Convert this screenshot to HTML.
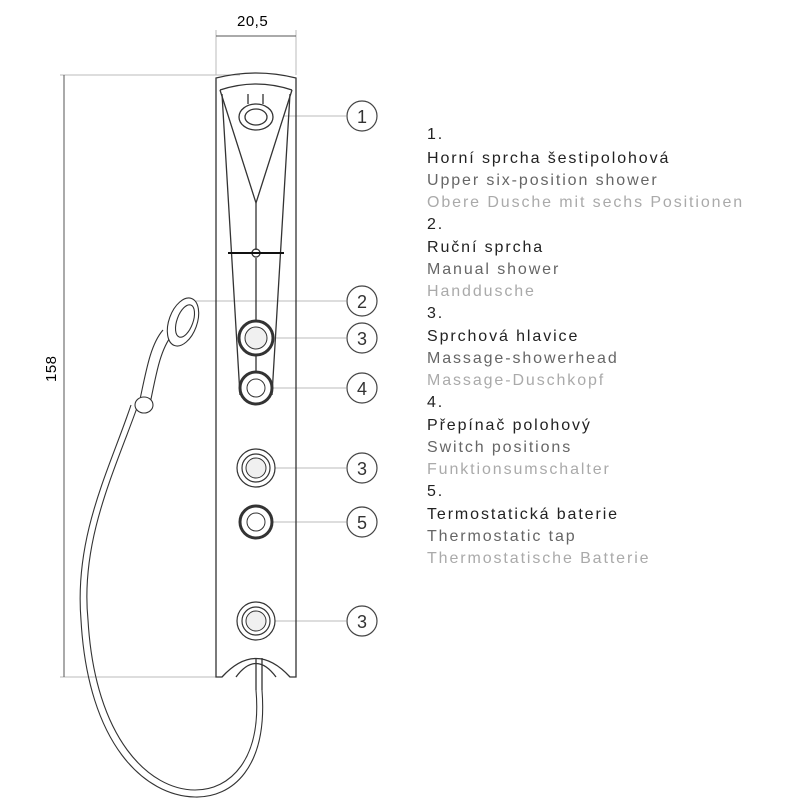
<!DOCTYPE html>
<html><head><meta charset="utf-8"><style>
body{margin:0;background:#fff;width:800px;height:800px;overflow:hidden}
svg text{font-family:"Liberation Sans",sans-serif;font-size:16px;letter-spacing:1.9px}
</style></head><body>
<svg width="800" height="800" viewBox="0 0 800 800" xmlns="http://www.w3.org/2000/svg">
<g stroke="#bbb" stroke-width="1" fill="none">
<line x1="216" y1="30" x2="216" y2="75"/><line x1="296" y1="30" x2="296" y2="75"/>
<line x1="216" y1="36" x2="296" y2="36" stroke="#555"/>
<line x1="60" y1="75" x2="240" y2="75"/><line x1="60" y1="677" x2="220" y2="677"/>
<line x1="64" y1="75" x2="64" y2="677" stroke="#555"/>
<line x1="283" y1="116" x2="346" y2="116"/>
<line x1="196" y1="301" x2="346" y2="301"/>
<line x1="276" y1="338" x2="346" y2="338"/>
<line x1="272" y1="388" x2="346" y2="388"/>
<line x1="272" y1="468" x2="346" y2="468"/>
<line x1="272" y1="522" x2="346" y2="522"/>
<line x1="272" y1="621" x2="346" y2="621"/>
</g>
<text x="237" y="26" style="letter-spacing:0.5px;font-size:15px">20,5</text>
<text x="0" y="0" transform="translate(56,382) rotate(-90)" style="letter-spacing:0.5px;font-size:15px">158</text>
<g stroke="#333" stroke-width="1.3" fill="none">
<path d="M216,78 Q256,68 296,78 L296,677 L290,677 Q256,640 222,677 L216,677 Z"/>
<path d="M220,90 Q256,78 292,90"/>
<path d="M220,90 L256,203 L292,90"/>
<line x1="256" y1="203" x2="256" y2="250"/>
<path d="M222,94 L240,395 M290,94 L272,395"/>
<path d="M236,677 Q256,650 276,677"/>
<line x1="256" y1="258" x2="256" y2="322"/>
<line x1="256" y1="355" x2="256" y2="372"/>
<ellipse cx="256" cy="117" rx="17" ry="13"/><ellipse cx="256" cy="117" rx="11" ry="8"/>
<line x1="248" y1="94" x2="248" y2="104"/><line x1="263" y1="94" x2="263" y2="104"/>
<circle cx="256" cy="253" r="4"/>
<line x1="228" y1="253" x2="284" y2="253" stroke="#111" stroke-width="2"/>
<line x1="256" y1="658" x2="256" y2="690"/><line x1="262" y1="658" x2="262" y2="690"/>
</g>
<g stroke="#333" fill="#fff">
<circle cx="256" cy="338" r="17" stroke-width="3"/><circle cx="256" cy="338" r="11" fill="#f0f0f0" stroke-width="1"/>
<circle cx="256" cy="388" r="16" stroke-width="3"/><circle cx="256" cy="388" r="9" stroke-width="1"/>
<circle cx="256" cy="468" r="19" stroke-width="1.2"/><circle cx="256" cy="468" r="14" stroke-width="1.2"/><circle cx="256" cy="468" r="10" fill="#f0f0f0" stroke-width="1"/>
<circle cx="256" cy="522" r="16" stroke-width="3"/><circle cx="256" cy="522" r="9" stroke-width="1"/>
<circle cx="256" cy="621" r="19" stroke-width="1.2"/><circle cx="256" cy="621" r="14" stroke-width="1.2"/><circle cx="256" cy="621" r="10" fill="#f0f0f0" stroke-width="1"/>
</g>
<g stroke="#333" stroke-width="1.1" fill="none">
<path d="M256,690 C262,760 230,790 195,790 C150,790 95,740 88,620 C80,540 115,470 138,405"/>
<path d="M262,690 C268,768 232,798 195,797 C145,796 88,745 81,620 C74,535 110,468 131,405"/>
<path d="M150,404 C156,375 160,350 172,335"/>
<path d="M139,404 C146,372 150,345 163,330"/>
<ellipse cx="144" cy="405" rx="9" ry="8" fill="#fff"/>
<ellipse cx="183" cy="322" rx="14" ry="25" transform="rotate(20 183 322)" fill="#fff"/>
<ellipse cx="185" cy="321" rx="8" ry="17" transform="rotate(20 185 321)"/>
</g>
<g stroke="#444" stroke-width="1.2" fill="#fff">
<circle cx="362" cy="116" r="15"/><circle cx="362" cy="301" r="15"/><circle cx="362" cy="338" r="15"/>
<circle cx="362" cy="388" r="15"/><circle cx="362" cy="468" r="15"/><circle cx="362" cy="522" r="15"/><circle cx="362" cy="621" r="15"/>
</g>
<g fill="#333" text-anchor="middle">
<text x="362" y="123" style="font-size:18px;letter-spacing:0">1</text><text x="362" y="308" style="font-size:18px;letter-spacing:0">2</text>
<text x="362" y="345" style="font-size:18px;letter-spacing:0">3</text><text x="362" y="395" style="font-size:18px;letter-spacing:0">4</text>
<text x="362" y="475" style="font-size:18px;letter-spacing:0">3</text><text x="362" y="529" style="font-size:18px;letter-spacing:0">5</text>
<text x="362" y="628" style="font-size:18px;letter-spacing:0">3</text>
</g>
<g>
<text x="427" y="139" fill="#222">1.</text>
<text x="427" y="163" fill="#222">Horní sprcha šestipolohová</text>
<text x="427" y="185" fill="#666">Upper six-position shower</text>
<text x="427" y="207" fill="#aaa">Obere Dusche mit sechs Positionen</text>
<text x="427" y="229" fill="#222">2.</text>
<text x="427" y="252" fill="#222">Ruční sprcha</text>
<text x="427" y="274" fill="#666">Manual shower</text>
<text x="427" y="296" fill="#aaa">Handdusche</text>
<text x="427" y="318" fill="#222">3.</text>
<text x="427" y="341" fill="#222">Sprchová hlavice</text>
<text x="427" y="363" fill="#666">Massage-showerhead</text>
<text x="427" y="385" fill="#aaa">Massage-Duschkopf</text>
<text x="427" y="407" fill="#222">4.</text>
<text x="427" y="430" fill="#222">Přepínač polohový</text>
<text x="427" y="452" fill="#666">Switch positions</text>
<text x="427" y="474" fill="#aaa">Funktionsumschalter</text>
<text x="427" y="496" fill="#222">5.</text>
<text x="427" y="519" fill="#222">Termostatická baterie</text>
<text x="427" y="541" fill="#666">Thermostatic tap</text>
<text x="427" y="563" fill="#aaa">Thermostatische Batterie</text>
</g>
</svg>
</body></html>
